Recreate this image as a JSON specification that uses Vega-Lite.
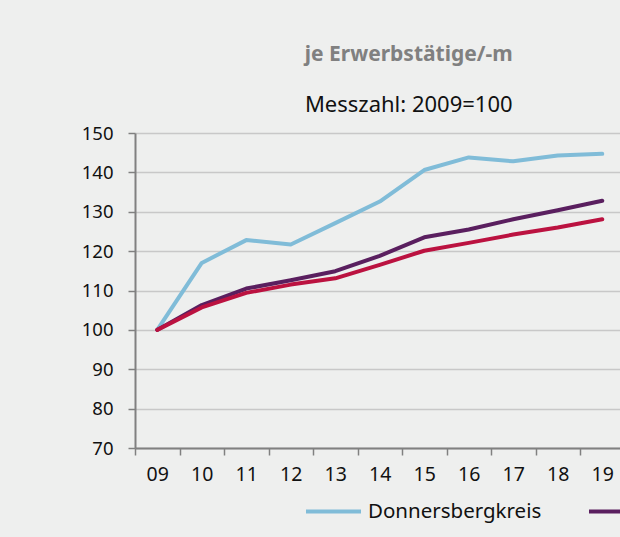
{
  "$schema": "https://vega.github.io/schema/vega-lite/v6.json",
  "background": "#eeefee",
  "padding": {"left": 81, "top": 44, "right": 0, "bottom": 30},
  "width": {"step": 44.5},
  "height": 315,
  "title": {
    "text": "je Erwerbstätige/-m",
    "subtitle": "Messzahl: 2009=100",
    "anchor": "middle",
    "dx": 29,
    "offset": 8,
    "font": "Noto Sans",
    "fontSize": 21,
    "fontWeight": "bold",
    "color": "#808080",
    "subtitleFont": "Noto Sans",
    "subtitleFontSize": 22,
    "subtitleColor": "#111111",
    "subtitlePadding": 30
  },
  "data": {
    "values": [
      {"jahr": "09", "region": "Donnersbergkreis", "wert": 100},
      {"jahr": "10", "region": "Donnersbergkreis", "wert": 117.0},
      {"jahr": "11", "region": "Donnersbergkreis", "wert": 122.8},
      {"jahr": "12", "region": "Donnersbergkreis", "wert": 121.7},
      {"jahr": "13", "region": "Donnersbergkreis", "wert": 127.1},
      {"jahr": "14", "region": "Donnersbergkreis", "wert": 132.6},
      {"jahr": "15", "region": "Donnersbergkreis", "wert": 140.6},
      {"jahr": "16", "region": "Donnersbergkreis", "wert": 143.8},
      {"jahr": "17", "region": "Donnersbergkreis", "wert": 142.8},
      {"jahr": "18", "region": "Donnersbergkreis", "wert": 144.3},
      {"jahr": "19", "region": "Donnersbergkreis", "wert": 144.7},
      {"jahr": "09", "region": "Rheinland-Pfalz", "wert": 100},
      {"jahr": "10", "region": "Rheinland-Pfalz", "wert": 106.3},
      {"jahr": "11", "region": "Rheinland-Pfalz", "wert": 110.5},
      {"jahr": "12", "region": "Rheinland-Pfalz", "wert": 112.6},
      {"jahr": "13", "region": "Rheinland-Pfalz", "wert": 114.9},
      {"jahr": "14", "region": "Rheinland-Pfalz", "wert": 118.8},
      {"jahr": "15", "region": "Rheinland-Pfalz", "wert": 123.5},
      {"jahr": "16", "region": "Rheinland-Pfalz", "wert": 125.5},
      {"jahr": "17", "region": "Rheinland-Pfalz", "wert": 128.1},
      {"jahr": "18", "region": "Rheinland-Pfalz", "wert": 130.4},
      {"jahr": "19", "region": "Rheinland-Pfalz", "wert": 132.8},
      {"jahr": "09", "region": "Deutschland", "wert": 100},
      {"jahr": "10", "region": "Deutschland", "wert": 105.7},
      {"jahr": "11", "region": "Deutschland", "wert": 109.4},
      {"jahr": "12", "region": "Deutschland", "wert": 111.5},
      {"jahr": "13", "region": "Deutschland", "wert": 113.1},
      {"jahr": "14", "region": "Deutschland", "wert": 116.5},
      {"jahr": "15", "region": "Deutschland", "wert": 120.1},
      {"jahr": "16", "region": "Deutschland", "wert": 122.1},
      {"jahr": "17", "region": "Deutschland", "wert": 124.2},
      {"jahr": "18", "region": "Deutschland", "wert": 126.0},
      {"jahr": "19", "region": "Deutschland", "wert": 128.1}
    ]
  },
  "mark": {"type": "line", "strokeWidth": 4, "strokeCap": "round", "strokeJoin": "round"},
  "encoding": {
    "x": {
      "field": "jahr",
      "type": "ordinal",
      "scale": {"paddingInner": 0, "paddingOuter": 0},
      "axis": {
        "title": null,
        "labelAngle": 0,
        "tickBand": "extent",
        "domainColor": "#808080",
        "domainWidth": 2,
        "tickColor": "#808080",
        "tickWidth": 1.5,
        "tickSize": 7,
        "labelPadding": 10,
        "labelFont": "Noto Sans",
        "labelFontSize": 19.5,
        "labelColor": "#111111",
        "grid": false
      }
    },
    "y": {
      "field": "wert",
      "type": "quantitative",
      "scale": {"domain": [70, 150], "nice": false, "zero": false},
      "axis": {
        "title": null,
        "values": [70, 80, 90, 100, 110, 120, 130, 140, 150],
        "grid": true,
        "gridColor": "#c8c8c8",
        "gridWidth": 1.5,
        "domainColor": "#808080",
        "domainWidth": 2,
        "tickColor": "#808080",
        "tickWidth": 1.5,
        "tickSize": 7,
        "labelPadding": 15,
        "labelFont": "Noto Sans",
        "labelFontSize": 18.5,
        "labelColor": "#111111"
      }
    },
    "color": {
      "field": "region",
      "type": "nominal",
      "sort": ["Donnersbergkreis", "Rheinland-Pfalz", "Deutschland"],
      "scale": {
        "domain": ["Donnersbergkreis", "Rheinland-Pfalz", "Deutschland"],
        "range": ["#80bcd8", "#5a1f5f", "#bb1240"]
      },
      "legend": {
        "title": null,
        "orient": "none",
        "direction": "horizontal",
        "legendX": 169,
        "legendY": 349,
        "symbolType": "stroke",
        "symbolSize": 3025,
        "symbolStrokeWidth": 4,
        "labelFont": "Noto Sans",
        "labelFontSize": 20.5,
        "labelColor": "#111111",
        "labelOffset": 5,
        "columnPadding": 39,
        "padding": 0,
        "labelLimit": 400
      }
    }
  },
  "config": {"view": {"stroke": null}}
}
